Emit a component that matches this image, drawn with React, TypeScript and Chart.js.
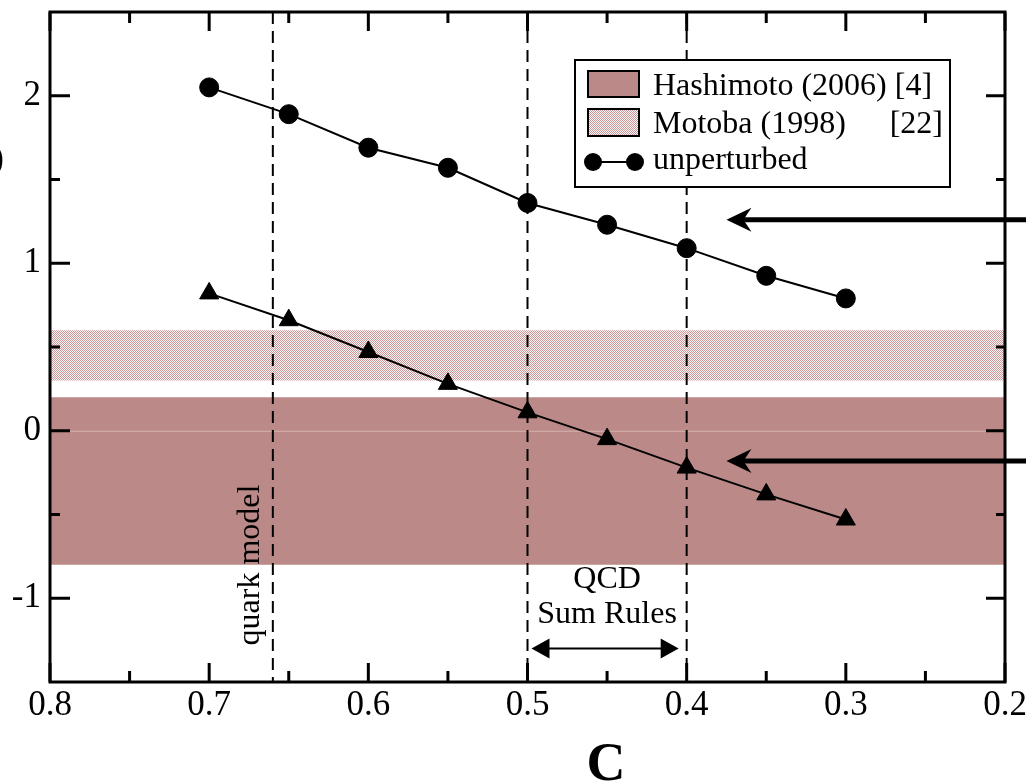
import React, { useEffect, useRef } from "react";
import { Chart, registerables } from "chart.js";

Chart.register(...registerables);

// ---- data ----
const cValues = [0.7, 0.65, 0.6, 0.55, 0.5, 0.45, 0.4, 0.35, 0.3];
const unperturbed = [2.05, 1.89, 1.69, 1.57, 1.36, 1.23, 1.09, 0.925, 0.79];
const perturbed = [0.82, 0.66, 0.47, 0.28, 0.11, -0.05, -0.22, -0.38, -0.53];
const hashimotoBand = [-0.8, 0.2];
const motobaBand = [0.3, 0.6];
const xRange = [0.2, 0.8];
const yRange = [-1.5, 2.5];
const xMajorTicks = [0.8, 0.7, 0.6, 0.5, 0.4, 0.3, 0.2];
const xMinorTicks = [0.75, 0.65, 0.55, 0.45, 0.35, 0.25];
const yMajorTicks = [-1, 0, 1, 2];
const yMinorTicks = [-0.5, 0.5, 1.5];
const markerLines = [0.66, 0.5, 0.4];
const arrowLevels = [1.26, -0.18];
const arrowTipC = 0.375;
const qcdRange = [0.5, 0.4];
const qcdArrowY = -1.3;
const legendLabels = ["Hashimoto (2006) [4]", "Motoba (1998)", "unperturbed"];
const legendRefs = ["", "[22]", ""];
const xTitle = "C";

const SERIF = "'Liberation Serif', 'Times New Roman', serif";
const BAND_COLOR = "rgb(187,138,136)";

function makePattern(): CanvasPattern | string {
  const c = document.createElement("canvas");
  c.width = 2;
  c.height = 2;
  const g = c.getContext("2d");
  if (!g) return "rgb(225,195,195)";
  g.fillStyle = "rgb(252,246,246)";
  g.fillRect(0, 0, 2, 2);
  g.fillStyle = "rgb(200,150,150)";
  g.fillRect(0, 0, 1, 1);
  g.fillRect(1, 1, 1, 1);
  const p = g.createPattern(c, "repeat");
  return p || "rgb(225,195,195)";
}

export default function App() {
  const ref = useRef<HTMLCanvasElement | null>(null);

  useEffect(() => {
    const canvas = ref.current;
    if (!canvas) return;
    const pattern = makePattern();

    const decor = {
      id: "decor",
      beforeDatasetsDraw(chart: any) {
        const { ctx, chartArea } = chart;
        const xs = chart.scales.x;
        const ys = chart.scales.y;
        ctx.save();
        ctx.beginPath();
        ctx.rect(chartArea.left, chartArea.top, chartArea.right - chartArea.left, chartArea.bottom - chartArea.top);
        ctx.clip();
        // faint zero line
        const y0 = ys.getPixelForValue(0);
        ctx.strokeStyle = "rgb(214,178,176)";
        ctx.lineWidth = 1;
        ctx.beginPath();
        ctx.moveTo(chartArea.left, y0 + 0.5);
        ctx.lineTo(chartArea.right, y0 + 0.5);
        ctx.stroke();
        // dashed verticals
        ctx.strokeStyle = "#000";
        ctx.lineWidth = 2;
        ctx.setLineDash([12, 7]);
        markerLines.forEach((v) => {
          const x = xs.getPixelForValue(v);
          ctx.beginPath();
          ctx.moveTo(x, chartArea.top);
          ctx.lineTo(x, chartArea.bottom);
          ctx.stroke();
        });
        ctx.restore();
      },
      afterDraw(chart: any) {
        const { ctx, chartArea } = chart;
        const xs = chart.scales.x;
        const ys = chart.scales.y;
        const { left, right, top, bottom } = chartArea;
        ctx.save();
        // frame
        ctx.strokeStyle = "#000";
        ctx.lineWidth = 3;
        ctx.setLineDash([]);
        ctx.strokeRect(left, top, right - left, bottom - top);
        // ticks
        const tick = (x1: number, y1: number, x2: number, y2: number) => {
          ctx.beginPath();
          ctx.moveTo(x1, y1);
          ctx.lineTo(x2, y2);
          ctx.stroke();
        };
        ctx.lineWidth = 3;
        xMajorTicks.forEach((v) => {
          const x = xs.getPixelForValue(v);
          tick(x, bottom, x, bottom - 19);
          tick(x, top, x, top + 19);
        });
        xMinorTicks.forEach((v) => {
          const x = xs.getPixelForValue(v);
          tick(x, bottom, x, bottom - 11);
          tick(x, top, x, top + 11);
        });
        yMajorTicks.forEach((v) => {
          const y = ys.getPixelForValue(v);
          tick(left, y, left + 20, y);
          tick(right, y, right - 19, y);
        });
        yMinorTicks.forEach((v) => {
          const y = ys.getPixelForValue(v);
          tick(left, y, left + 10, y);
          tick(right, y, right - 9, y);
        });

        // legend
        const lx = 575, ly = 60, lw = 375, lh = 127;
        ctx.fillStyle = "#fff";
        ctx.fillRect(lx, ly, lw, lh);
        ctx.lineWidth = 2;
        ctx.strokeStyle = "#000";
        ctx.strokeRect(lx, ly, lw, lh);
        ctx.fillStyle = BAND_COLOR;
        ctx.fillRect(588, 71, 51, 26);
        ctx.strokeRect(588, 71, 51, 26);
        ctx.fillStyle = pattern as any;
        ctx.fillRect(588, 109, 51, 27);
        ctx.strokeRect(588, 109, 51, 27);
        ctx.lineWidth = 2;
        ctx.beginPath();
        ctx.moveTo(593, 162);
        ctx.lineTo(635, 162);
        ctx.stroke();
        ctx.fillStyle = "#000";
        [593, 635].forEach((cx) => {
          ctx.beginPath();
          ctx.arc(cx, 162, 9, 0, Math.PI * 2);
          ctx.fill();
        });
        ctx.font = `32px ${SERIF}`;
        ctx.textAlign = "left";
        ctx.textBaseline = "alphabetic";
        const baselines = [95, 133, 169];
        legendLabels.forEach((t, i) => {
          ctx.fillText(t, 653, baselines[i]);
          if (legendRefs[i]) {
            ctx.textAlign = "right";
            ctx.fillText(legendRefs[i], 943, baselines[i]);
            ctx.textAlign = "left";
          }
        });

        // annotations
        ctx.font = `32px ${SERIF}`;
        ctx.textAlign = "center";
        ctx.textBaseline = "middle";
        const qx = (xs.getPixelForValue(qcdRange[0]) + xs.getPixelForValue(qcdRange[1])) / 2;
        ctx.fillText("QCD", qx, 580);
        ctx.fillText("Sum Rules", qx, 615);
        // quark model rotated
        ctx.save();
        ctx.translate(xs.getPixelForValue(markerLines[0]) - 22, 565);
        ctx.rotate(-Math.PI / 2);
        ctx.fillText("quark model", 0, 0);
        ctx.restore();

        // double arrow
        const ay = ys.getPixelForValue(qcdArrowY);
        const ax1 = xs.getPixelForValue(qcdRange[0]) + 4;
        const ax2 = xs.getPixelForValue(qcdRange[1]) - 8;
        ctx.lineWidth = 2;
        ctx.beginPath();
        ctx.moveTo(ax1 + 10, ay);
        ctx.lineTo(ax2 - 10, ay);
        ctx.stroke();
        ctx.beginPath();
        ctx.moveTo(ax1, ay);
        ctx.lineTo(ax1 + 18, ay - 10);
        ctx.lineTo(ax1 + 18, ay + 10);
        ctx.closePath();
        ctx.fill();
        ctx.beginPath();
        ctx.moveTo(ax2, ay);
        ctx.lineTo(ax2 - 18, ay - 10);
        ctx.lineTo(ax2 - 18, ay + 10);
        ctx.closePath();
        ctx.fill();

        // big arrows from the right
        const xt = xs.getPixelForValue(arrowTipC);
        arrowLevels.forEach((v) => {
          const y = ys.getPixelForValue(v);
          ctx.lineWidth = 5;
          ctx.beginPath();
          ctx.moveTo(xt + 14, y);
          ctx.lineTo(chart.width, y);
          ctx.stroke();
          ctx.beginPath();
          ctx.moveTo(xt, y);
          ctx.lineTo(xt + 25, y - 12);
          ctx.lineTo(xt + 17, y);
          ctx.lineTo(xt + 25, y + 12);
          ctx.closePath();
          ctx.fill();
        });

        // x title
        ctx.font = `bold 54px ${SERIF}`;
        ctx.textAlign = "center";
        ctx.textBaseline = "alphabetic";
        ctx.fillText(xTitle, 606, 780);

        // partial glyph at left edge
        ctx.font = `35px ${SERIF}`;
        ctx.textAlign = "right";
        ctx.textBaseline = "middle";
        ctx.fillText(")", 4, 160);
        ctx.restore();
      },
    };

    const bandData = (v: number) => [
      { x: xRange[1], y: v },
      { x: xRange[0], y: v },
    ];

    const chart = new Chart(canvas, {
      type: "line",
      data: {
        datasets: [
          {
            label: legendLabels[0],
            data: bandData(hashimotoBand[1]),
            fill: { value: hashimotoBand[0] } as any,
            backgroundColor: BAND_COLOR,
            borderWidth: 0,
            pointRadius: 0,
            order: 10,
          },
          {
            label: legendLabels[1],
            data: bandData(motobaBand[1]),
            fill: { value: motobaBand[0] } as any,
            backgroundColor: pattern as any,
            borderWidth: 0,
            pointRadius: 0,
            order: 9,
          },
          {
            label: legendLabels[2],
            data: cValues.map((c, i) => ({ x: c, y: unperturbed[i] })),
            borderColor: "#000",
            borderWidth: 2,
            pointStyle: "circle",
            pointRadius: 9.5,
            pointBorderWidth: 1,
            pointBackgroundColor: "#000",
            pointBorderColor: "#000",
            fill: false,
            order: 1,
          },
          {
            label: "perturbed",
            data: cValues.map((c, i) => ({ x: c, y: perturbed[i] })),
            borderColor: "#000",
            borderWidth: 2,
            pointStyle: "triangle",
            pointRadius: 11,
            pointBorderWidth: 1,
            pointBackgroundColor: "#000",
            pointBorderColor: "#000",
            fill: false,
            order: 0,
          },
        ],
      },
      options: {
        responsive: false,
        animation: false,
        devicePixelRatio: 1,
        layout: { padding: { left: 0, right: 21, top: 12, bottom: 0 } },
        plugins: {
          legend: { display: false },
          tooltip: { enabled: false },
          filler: { drawTime: "beforeDatasetsDraw" } as any,
        },
        scales: {
          x: {
            type: "linear",
            reverse: true,
            min: xRange[0],
            max: xRange[1],
            grid: { display: false, drawTicks: false },
            border: { display: false },
            afterBuildTicks: (s: any) => {
              s.ticks = xMajorTicks.map((v) => ({ value: v }));
            },
            afterFit: (s: any) => {
              s.height = 101;
              s.paddingLeft = 0;
              s.paddingRight = 0;
            },
            ticks: {
              autoSkip: false,
              maxRotation: 0,
              padding: 3,
              color: "#000",
              font: { family: SERIF, size: 35 },
              callback: (v: any) => Number(v).toFixed(1),
            },
          },
          y: {
            type: "linear",
            min: yRange[0],
            max: yRange[1],
            grid: { display: false, drawTicks: false },
            border: { display: false },
            afterBuildTicks: (s: any) => {
              s.ticks = yMajorTicks.map((v) => ({ value: v }));
            },
            afterFit: (s: any) => {
              s.width = 50;
              s.paddingTop = 0;
              s.paddingBottom = 0;
            },
            ticks: {
              padding: 9,
              color: "#000",
              font: { family: SERIF, size: 35 },
              callback: (v: any) => String(v),
            },
          },
        },
      },
      plugins: [decor],
    });

    return () => chart.destroy();
  }, []);

  return (
    <div style={{ position: "fixed", left: 0, top: 0, width: 1026, height: 783, background: "#fff" }}>
      <canvas ref={ref} width={1026} height={783} style={{ display: "block" }} />
    </div>
  );
}
